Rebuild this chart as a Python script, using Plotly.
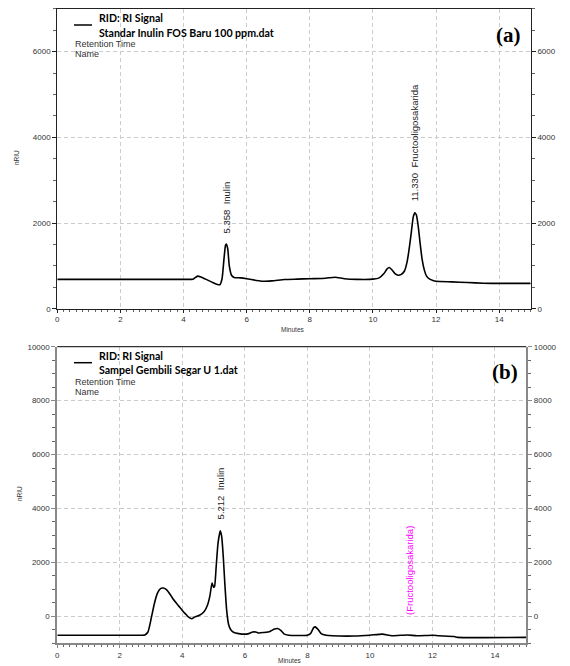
import plotly.graph_objects as go

# ---------------- data ----------------
time_a = [0.0, 1.0, 2.0, 3.0, 4.0, 4.3, 4.38, 4.45, 4.55, 4.7, 4.9, 5.05, 5.15, 5.22, 5.28, 5.33, 5.358,
          5.40, 5.45, 5.52, 5.6, 5.8, 6.0, 6.3, 6.5, 6.8, 7.2, 7.6, 8.0, 8.5, 8.8, 9.1, 9.5, 10.0,
          10.2, 10.35, 10.45, 10.52, 10.6, 10.7, 10.8, 10.9, 11.0, 11.08, 11.15, 11.22, 11.28, 11.33,
          11.38, 11.44, 11.5, 11.56, 11.63, 11.7, 11.8, 11.9, 12.0, 12.5, 13.0, 13.5, 14.0, 15.0]
signal_a = [685, 685, 685, 685, 685, 690, 730, 760, 740, 690, 620, 570, 560, 700, 1150, 1480, 1510,
            1400, 1000, 780, 730, 720, 700, 660, 640, 650, 680, 690, 700, 710, 735, 700, 685, 690,
            720, 820, 930, 960, 910, 820, 780, 800, 880, 1080, 1400, 1800, 2150, 2240,
            2180, 1900, 1500, 1150, 900, 760, 690, 660, 640, 625, 610, 595, 590, 590]

time_b = [0.0, 1.0, 2.0, 2.7, 2.8, 2.9, 3.0, 3.1, 3.2, 3.3, 3.4, 3.5, 3.6, 3.7, 3.8, 3.9, 4.0, 4.1, 4.2,
          4.3, 4.4, 4.55, 4.7, 4.8, 4.88, 4.95, 5.0, 5.03, 5.08, 5.14, 5.212, 5.26, 5.31, 5.36, 5.42, 5.48,
          5.55, 5.65, 5.8, 6.0, 6.1, 6.25, 6.35, 6.45, 6.6, 6.8, 6.95, 7.05, 7.15, 7.25, 7.4, 8.0,
          8.1, 8.2, 8.25, 8.35, 8.45, 8.6, 8.8, 9.5, 10.0, 10.4, 10.7, 11.2, 11.5, 12.0, 12.2, 12.7,
          12.8, 15.0]
signal_b = [-700, -700, -700, -700, -690, -580, -100, 450, 850, 1030, 1050, 980, 830, 650, 500, 360, 220, 90, -30,
            -90, -20, 40, 180, 400, 750, 1230, 1080, 1100, 1800, 2700, 3170, 2950, 2200, 1200, 200, -300,
            -500, -600, -640, -660, -650, -580, -580, -620, -600, -560, -470, -450, -520, -650, -700, -700,
            -640, -420, -390, -500, -650, -700, -720, -730, -700, -660, -720, -690, -720, -700, -720, -750,
            -780, -780]

x_ticks = [0, 2, 4, 6, 8, 10, 12, 14]
y_ticks_a = [0, 2000, 4000, 6000]
y_ticks_b = [0, 2000, 4000, 6000, 8000, 10000]
y_range_a = [0, 7000]
y_range_b = [-1000, 10000]
x_range = [0, 15]

legend_a = ["RID: RI Signal", "Standar Inulin FOS Baru 100 ppm.dat"]
legend_b = ["RID: RI Signal", "Sampel Gembili Segar U 1.dat"]
peaks_a = [(5.358, 1720, "5.358  Inulin", "#222222"), (11.33, 2470, "11.330  Fructooligosakarida", "#222222")]
peaks_b = [(5.212, 3530, "5.212  Inulin", "#222222"), (11.26, -30, "(Fructooligosakarida)", "#ff00ff")]

W, H = 570, 666
OFF = 8  # page body margin in the browser
def px(x):
    return (x - OFF) / W
def py(y):
    return 1 - (y - OFF) / H

TICKFONT = dict(family="Liberation Sans, Arial", size=8, color="#333333")
GRID = dict(showgrid=True, gridcolor="#cccccc", griddash="4px,3px", gridwidth=1)

fig = go.Figure()
fig.add_trace(go.Scatter(x=time_a, y=signal_a, mode="lines", xaxis="x", yaxis="y",
                         line=dict(color="black", width=1.6, shape="spline", smoothing=0.5),
                         showlegend=False, hoverinfo="skip"))
fig.add_trace(go.Scatter(x=time_b, y=signal_b, mode="lines", xaxis="x2", yaxis="y2",
                         line=dict(color="black", width=1.6, shape="spline", smoothing=0.5),
                         showlegend=False, hoverinfo="skip"))
# dummy traces for right axes
fig.add_trace(go.Scatter(x=[None], y=[None], xaxis="x", yaxis="y3", showlegend=False))
fig.add_trace(go.Scatter(x=[None], y=[None], xaxis="x2", yaxis="y4", showlegend=False))

dom_xa = [px(57.3), px(530.7)]
dom_xb = [px(57.3), px(526.2)]
dom_ya = [py(308.7), py(8.8)]
dom_yb = [py(643.3), py(346.7)]

def xaxis(domain, anchor, linecolor, lw, mirror=True):
    return dict(domain=domain, anchor=anchor, range=x_range, tickvals=x_ticks,
                ticks="outside", ticklen=3, tickcolor=linecolor, tickfont=TICKFONT,
                showline=True, linecolor=linecolor, linewidth=lw, mirror=mirror, automargin=False,
                minor=dict(dtick=0.2, ticklen=2, ticks="outside", tickcolor="#666666", showgrid=False),
                zeroline=False, **GRID)

def yaxis(domain, anchor, rng, tv, linecolor, lw, side="left", overlaying=None, grid=True):
    d = dict(domain=domain, anchor=anchor, range=rng, tickvals=tv, ticktext=[str(v) for v in tv],
             ticks="outside", ticklen=4, automargin=False,
             tickcolor=linecolor, tickfont=TICKFONT, showline=True, linecolor=linecolor,
             linewidth=lw, side=side, zeroline=False,
             minor=dict(dtick=500, ticklen=3, ticks="outside", tickcolor="#666666", showgrid=False))
    if grid:
        d.update(GRID)
    else:
        d["showgrid"] = False
    if overlaying:
        d["overlaying"] = overlaying
    return d

fig.update_layout(
    width=W, height=H, margin=dict(l=0, r=0, t=0, b=0, autoexpand=False),
    paper_bgcolor="white", plot_bgcolor="white",
    xaxis=xaxis(dom_xa, "y", "#222222", 1.2),
    yaxis=yaxis(dom_ya, "x", y_range_a, y_ticks_a, "#222222", 1.2),
    yaxis3=yaxis(dom_ya, "x", y_range_a, y_ticks_a, "#222222", 1.2, side="right", overlaying="y", grid=False),
    xaxis2=xaxis(dom_xb, "y2", "#888888", 2, mirror=False),
    yaxis2=yaxis(dom_yb, "x2", y_range_b, y_ticks_b, "#888888", 2),
    yaxis4=yaxis(dom_yb, "x2", y_range_b, y_ticks_b, "#888888", 2, side="right", overlaying="y2", grid=False),
    showlegend=False,
)

ann = []
shapes = []
# dark top frame line of panel (b)
shapes.append(dict(type="line", xref="x2 domain", yref="y2 domain", x0=0, x1=1, y0=1, y1=1,
                   line=dict(color="#333333", width=1.2)))
LEG_FONT_B = dict(family="Lato, Open Sans", size=10.6, color="black")
SMALL = dict(family="Liberation Sans, Arial", size=9, color="#333333")

for (leg, y0) in [(legend_a, 0), (legend_b, 337.7)]:
    shapes.append(dict(type="line", xref="paper", yref="paper", x0=px(74), x1=px(92),
                       y0=py(25 + y0), y1=py(25 + y0), line=dict(color="black", width=1.5)))
    ann.append(dict(xref="paper", yref="paper", x=px(97), y=py(18 + y0), text="<b>%s</b>" % leg[0],
                    showarrow=False, xanchor="left", yanchor="middle", font=LEG_FONT_B))
    ann.append(dict(xref="paper", yref="paper", x=px(97), y=py(32.5 + y0), text="<b>%s</b>" % leg[1],
                    showarrow=False, xanchor="left", yanchor="middle", font=LEG_FONT_B))
    ann.append(dict(xref="paper", yref="paper", x=px(73), y=py(44 + y0), text="Retention Time",
                    showarrow=False, xanchor="left", yanchor="middle", font=SMALL))
    ann.append(dict(xref="paper", yref="paper", x=px(73), y=py(54 + y0), text="Name",
                    showarrow=False, xanchor="left", yanchor="middle", font=SMALL))

ann.append(dict(xref="paper", yref="paper", x=px(523), y=py(35), text="<b>(a)</b>", showarrow=False,
                xanchor="right", yanchor="middle",
                font=dict(family="Liberation Serif, Times New Roman", size=21, color="black")))
ann.append(dict(xref="paper", yref="paper", x=px(520), y=py(372), text="<b>(b)</b>", showarrow=False,
                xanchor="right", yanchor="middle",
                font=dict(family="Liberation Serif, Times New Roman", size=21, color="black")))

for (xr, yr, peaks) in [("x", "y", peaks_a), ("x2", "y2", peaks_b)]:
    for (xv, yv, txt, col) in peaks:
        ann.append(dict(xref=xr, yref=yr, x=xv, y=yv, text=txt, textangle=-90, showarrow=False,
                        xanchor="center", yanchor="bottom",
                        font=dict(family="Liberation Sans, Arial", size=9.5, color=col)))

TINY = dict(family="Liberation Sans, Arial", size=6.5, color="#333333")
for (x, y) in [(293, 329), (290, 660)]:
    ann.append(dict(xref="paper", yref="paper", x=px(x), y=py(y), text="Minutes", showarrow=False,
                    xanchor="center", yanchor="middle", font=TINY))
for (x, y) in [(16, 158), (565, 158), (19, 494), (565, 494)]:
    ann.append(dict(xref="paper", yref="paper", x=px(x), y=py(y), text="nRIU", showarrow=False,
                    textangle=-90, xanchor="center", yanchor="middle", font=TINY))

fig.update_layout(annotations=ann, shapes=shapes)
fig.write_html("out.html")
